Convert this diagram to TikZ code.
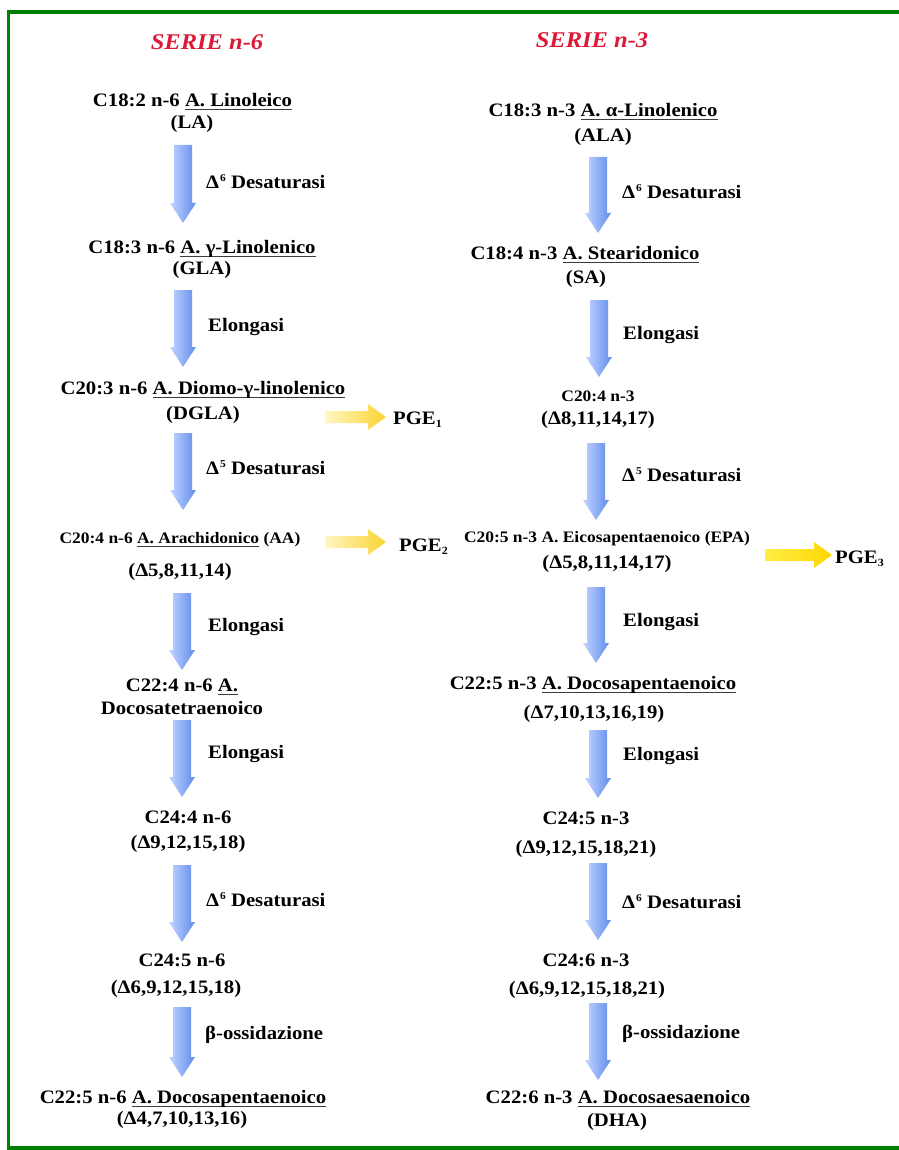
\documentclass[tikz,border=0pt]{standalone}
\usepackage{fontspec}
\setmainfont{Liberation Serif}[FakeStretch=1.09]
\usetikzlibrary{calc}
\definecolor{frameg}{RGB}{0,128,0}
\definecolor{titred}{RGB}{220,25,55}
\definecolor{bluel}{RGB}{195,212,255}
\definecolor{blued}{RGB}{95,140,235}
\definecolor{yell}{RGB}{255,246,195}
\definecolor{yeld}{RGB}{250,212,50}
\definecolor{yelbl}{RGB}{255,238,70}
\definecolor{yelbd}{RGB}{255,215,0}
\definecolor{ulgray}{RGB}{60,60,60}
\newcommand{\myul}[1]{\leavevmode\setbox0=\hbox{#1}\rlap{\textcolor{ulgray}{\rule[-3.5pt]{\wd0}{1.1pt}}}\box0\relax}
\newcommand{\sups}[1]{\kern1pt\raisebox{7pt}{\fontsize{10.5}{11}\selectfont #1}}
\newcommand{\subs}[1]{\raisebox{-3pt}{\fontsize{11}{12}\selectfont #1}}
\newcommand{\bluearrow}[2]{\path[blueshade] let \p1=(#1), \p2=(#2) in
  (\x1-9pt,\y1) -- (\x1+9pt,\y1) -- (\x1+9pt,\y2+20pt) -- (\x1+13pt,\y2+20pt) --
  (\x1,\y2) -- (\x1-13pt,\y2+20pt) -- (\x1-9pt,\y2+20pt) -- cycle;}
\newcommand{\yelarrow}[3]{\path[#3] let \p1=(#1), \p2=(#2) in
  (\x1,\y1+6pt) -- (\x2-18pt,\y1+6pt) -- (\x2-18pt,\y1+13pt) -- (\x2,\y1) --
  (\x2-18pt,\y1-13pt) -- (\x2-18pt,\y1-6pt) -- (\x1,\y1-6pt) -- cycle;}
\begin{document}
\begin{tikzpicture}[x=1pt,y=-1pt,
  txt/.style={font=\bfseries\fontsize{19}{22}\selectfont, inner sep=0pt, anchor=base},
  stxt/.style={font=\bfseries\fontsize{16}{19}\selectfont, inner sep=0pt, anchor=base},
  lab/.style={font=\bfseries\fontsize{19}{22}\selectfont, inner sep=0pt, anchor=base west},
  tit/.style={font=\bfseries\itshape\fontsize{22.5}{26}\selectfont, text=titred, inner sep=0pt, anchor=base},
  blueshade/.style={left color=bluel, right color=blued},
  yshade/.style={left color=yell, right color=yeld},
  ybshade/.style={left color=yelbl, right color=yelbd}]
\useasboundingbox (0,0) rectangle (898,1150);
\fill[white] (0,0) rectangle (898,1150);
\draw[frameg, line width=3.5pt] (8.5,12) rectangle (912,1148);

% titles
\node[tit] (t6) at (207,49.5) {SERIE n-6};
\node[tit] (t3) at (592,47.5) {SERIE n-3};

% ---------- left column ----------
\node[txt] (l1a) at (192.5,106.5) {C18:2 n-6 \myul{A. Linoleico}};
\node[txt] (l1b) at (192,128.5) {(LA)};
\node[txt] (l2a) at (202,253.5) {C18:3 n-6 \myul{A. γ-Linolenico}};
\node[txt] (l2b) at (202,274.5) {(GLA)};
\node[txt] (l3a) at (203,394.5) {C20:3 n-6 \myul{A. Diomo-γ-linolenico}};
\node[txt] (l3b) at (203,419.5) {(DGLA)};
\node[stxt] (l4a) at (180,543.5) {C20:4 n-6 \myul{A. Arachidonico} (AA)};
\node[txt] (l4b) at (180,576.5) {(Δ5,8,11,14)};
\node[txt] (l5a) at (182,691.5) {C22:4 n-6 \myul{A.}};
\node[txt] (l5b) at (182,714.5) {Docosatetraenoico};
\node[txt] (l6a) at (188,823.5) {C24:4 n-6};
\node[txt] (l6b) at (188,848.5) {(Δ9,12,15,18)};
\node[txt] (l7a) at (182,966.5) {C24:5 n-6};
\node[txt] (l7b) at (176,993.5) {(Δ6,9,12,15,18)};
\node[txt] (l8a) at (183,1103.5) {C22:5 n-6 \myul{A. Docosapentaenoico}};
\node[txt] (l8b) at (182,1124.5) {(Δ4,7,10,13,16)};

\coordinate (la1s) at (183,145);  \coordinate (la1e) at (183,223);
\coordinate (la2s) at (183,290);  \coordinate (la2e) at (183,367);
\coordinate (la3s) at (183,433);  \coordinate (la3e) at (183,510);
\coordinate (la4s) at (182,593);  \coordinate (la4e) at (182,670);
\coordinate (la5s) at (182,720);  \coordinate (la5e) at (182,797);
\coordinate (la6s) at (182,865);  \coordinate (la6e) at (182,942);
\coordinate (la7s) at (182,1007); \coordinate (la7e) at (182,1077);
\bluearrow{la1s}{la1e}
\bluearrow{la2s}{la2e}
\bluearrow{la3s}{la3e}
\bluearrow{la4s}{la4e}
\bluearrow{la5s}{la5e}
\bluearrow{la6s}{la6e}
\bluearrow{la7s}{la7e}

\node[lab] (ll1) at (206,188.5) {Δ\sups{6} Desaturasi};
\node[lab] (ll2) at (208,331.5) {Elongasi};
\node[lab] (ll3) at (206,474.5) {Δ\sups{5} Desaturasi};
\node[lab] (ll4) at (208,631.5) {Elongasi};
\node[lab] (ll5) at (208,758.5) {Elongasi};
\node[lab] (ll6) at (206,906.5) {Δ\sups{6} Desaturasi};
\node[lab] (ll7) at (205,1039.5) {β-ossidazione};

% PGE arrows
\coordinate (y1s) at (325,417); \coordinate (y1e) at (386,417);
\coordinate (y2s) at (325,542); \coordinate (y2e) at (386,542);
\coordinate (y3s) at (765,555); \coordinate (y3e) at (832,555);
\yelarrow{y1s}{y1e}{yshade}
\yelarrow{y2s}{y2e}{yshade}
\yelarrow{y3s}{y3e}{ybshade}
\node[lab] (pg1) at (393,424.5) {PGE\subs{1}};
\node[lab] (pg2) at (399,551.5) {PGE\subs{2}};
\node[lab] (pg3) at (835,563) {PGE\subs{3}};

% ---------- right column ----------
\node[txt] (r1a) at (603,116.5) {C18:3 n-3 \myul{A. α-Linolenico}};
\node[txt] (r1b) at (603,142) {(ALA)};
\node[txt] (r2a) at (585,259.5) {C18:4 n-3 \myul{A. Stearidonico}};
\node[txt] (r2b) at (586,283.5) {(SA)};
\node[stxt] (r3a) at (598,401.5) {C20:4 n-3};
\node[txt] (r3b) at (598,424.5) {(Δ8,11,14,17)};
\node[stxt] (r4a) at (607,542.5) {C20:5 n-3 A. Eicosapentaenoico (EPA)};
\node[txt] (r4b) at (607,568.5) {(Δ5,8,11,14,17)};
\node[txt] (r5a) at (593,689.5) {C22:5 n-3 \myul{A. Docosapentaenoico}};
\node[txt] (r5b) at (594,718) {(Δ7,10,13,16,19)};
\node[txt] (r6a) at (586,824.5) {C24:5 n-3};
\node[txt] (r6b) at (586,853) {(Δ9,12,15,18,21)};
\node[txt] (r7a) at (586,966.5) {C24:6 n-3};
\node[txt] (r7b) at (587,994) {(Δ6,9,12,15,18,21)};
\node[txt] (r8a) at (618,1103.5) {C22:6 n-3 \myul{A. Docosaesaenoico}};
\node[txt] (r8b) at (617,1126) {(DHA)};

\coordinate (ra1s) at (598,157);  \coordinate (ra1e) at (598,233);
\coordinate (ra2s) at (599,300);  \coordinate (ra2e) at (599,377);
\coordinate (ra3s) at (596,443);  \coordinate (ra3e) at (596,520);
\coordinate (ra4s) at (596,587);  \coordinate (ra4e) at (596,663);
\coordinate (ra5s) at (598,730);  \coordinate (ra5e) at (598,798);
\coordinate (ra6s) at (598,863);  \coordinate (ra6e) at (598,940);
\coordinate (ra7s) at (598,1003); \coordinate (ra7e) at (598,1080);
\bluearrow{ra1s}{ra1e}
\bluearrow{ra2s}{ra2e}
\bluearrow{ra3s}{ra3e}
\bluearrow{ra4s}{ra4e}
\bluearrow{ra5s}{ra5e}
\bluearrow{ra6s}{ra6e}
\bluearrow{ra7s}{ra7e}

\node[lab] (rl1) at (622,198.5) {Δ\sups{6} Desaturasi};
\node[lab] (rl2) at (623,339.5) {Elongasi};
\node[lab] (rl3) at (622,481.5) {Δ\sups{5} Desaturasi};
\node[lab] (rl4) at (623,626.5) {Elongasi};
\node[lab] (rl5) at (623,760.5) {Elongasi};
\node[lab] (rl6) at (622,908.5) {Δ\sups{6} Desaturasi};
\node[lab] (rl7) at (622,1038.5) {β-ossidazione};
\end{tikzpicture}
\end{document}
